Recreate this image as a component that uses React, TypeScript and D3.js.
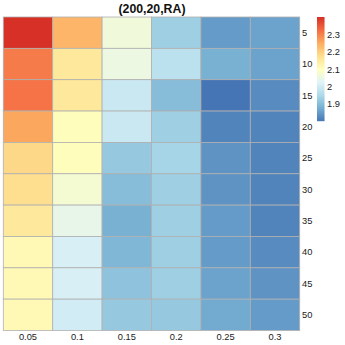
import React from 'react';
import * as d3 from 'd3';

// column / row categories
const cols = ['0.05', '0.1', '0.15', '0.2', '0.25', '0.3'];
const rows = ['5', '10', '15', '20', '25', '30', '35', '40', '45', '50'];

// values per row (5 .. 50), one entry per column
const r5 = [2.40, 2.24, 2.07, 1.94, 1.86, 1.87];
const r10 = [2.31, 2.16, 2.06, 1.98, 1.89, 1.87];
const r15 = [2.32, 2.16, 2.0, 1.91, 1.81, 1.84];
const r20 = [2.26, 2.11, 2.0, 1.94, 1.83, 1.83];
const r25 = [2.19, 2.11, 1.93, 1.95, 1.85, 1.83];
const r30 = [2.18, 2.08, 1.91, 1.94, 1.85, 1.83];
const r35 = [2.16, 2.05, 1.89, 1.94, 1.86, 1.83];
const r40 = [2.12, 2.02, 1.9, 1.94, 1.86, 1.84];
const r45 = [2.12, 2.02, 1.92, 1.94, 1.87, 1.85];
const r50 = [2.12, 2.01, 1.93, 1.93, 1.88, 1.86];
const values = [r5, r10, r15, r20, r25, r30, r35, r40, r45, r50];

const legendTicks = [1.9, 2, 2.1, 2.2, 2.3];
const palette = ['#4575b4', '#74add1', '#abd9e9', '#e0f3f8', '#ffffbf', '#fee090', '#fdae61', '#f46d43', '#d73027'];

const title = '(200,20,RA)';

export default function App() {
  const font = '"Liberation Sans", Arial, sans-serif';
  const flat = values.flat();
  const vmin = d3.min(flat) as number;
  const vmax = d3.max(flat) as number;

  const color = d3.scaleLinear<string>()
    .domain(palette.map((_, i) => vmin + (i / (palette.length - 1)) * (vmax - vmin)))
    .range(palette)
    .interpolate(d3.interpolateRgb);

  const x = d3.scaleBand().domain(cols).range([3.3, 299.7]);
  const y = d3.scaleBand().domain(rows).range([17, 330.5]);

  const legY = d3.scaleLinear().domain([vmin, vmax]).range([120, 17]);
  const legX = 317;
  const legW = 7.5;
  const steps = d3.range(0, 104);

  return (
    <svg width={345} height={345} style={{ position: 'fixed', left: 0, top: 0, background: '#fff' }}>
      <text x={152} y={12.5} textAnchor="middle" fontFamily={font} fontWeight="bold" fontSize={12.3} fill="#111">
        {title}
      </text>
      {values.map((row, i) =>
        row.map((v, j) => (
          <rect
            key={`${i}-${j}`}
            x={x(cols[j])}
            y={y(rows[i])}
            width={x.bandwidth()}
            height={y.bandwidth()}
            fill={color(v)}
            stroke="#b0b0b0"
            strokeWidth={0.8}
          />
        ))
      )}
      {rows.map(r => (
        <text key={r} x={302} y={(y(r) as number) + y.bandwidth() / 2 + 3.2} fontFamily={font} fontSize={9.3} fill="#1a1a1a">
          {r}
        </text>
      ))}
      {cols.map(c => (
        <text key={c} x={(x(c) as number) + x.bandwidth() / 2} y={339.5} textAnchor="middle" fontFamily={font} fontSize={9.3} fill="#1a1a1a">
          {c}
        </text>
      ))}
      {steps.map(k => {
        const v = vmax - (k / steps.length) * (vmax - vmin);
        return (
          <rect key={k} x={legX} y={17 + k} width={legW} height={1.2} fill={color(v)} />
        );
      })}
      {legendTicks.map(t => (
        <text key={t} x={327} y={legY(t) + 3.2} fontFamily={font} fontSize={9.3} fill="#1a1a1a">
          {t}
        </text>
      ))}
    </svg>
  );
}
